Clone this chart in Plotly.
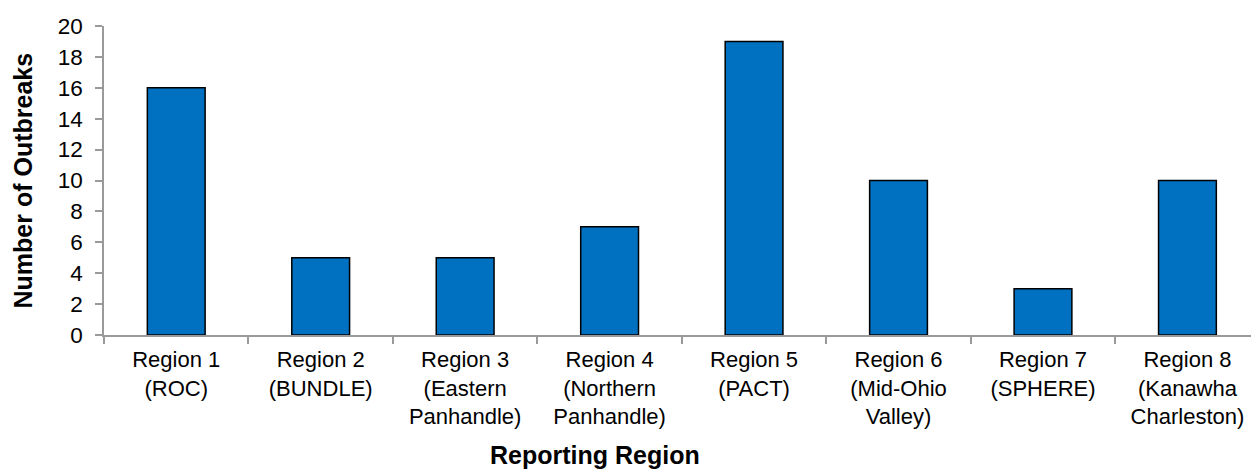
import plotly.graph_objects as go

regions = [
    "Region 1<br>(ROC)",
    "Region 2<br>(BUNDLE)",
    "Region 3<br>(Eastern<br>Panhandle)",
    "Region 4<br>(Northern<br>Panhandle)",
    "Region 5<br>(PACT)",
    "Region 6<br>(Mid-Ohio<br>Valley)",
    "Region 7<br>(SPHERE)",
    "Region 8<br>(Kanawha<br>Charleston)",
]
outbreaks = [16, 5, 5, 7, 19, 10, 3, 10]

fig = go.Figure(
    go.Bar(
        x=regions,
        y=outbreaks,
        width=0.4,
        marker=dict(color="#0070C0", line=dict(color="#000000", width=1.5)),
    )
)

font_family = "Liberation Sans, Arial, sans-serif"
axis_grey = "#9a9a9a"

fig.update_layout(
    width=1251,
    height=469,
    margin=dict(l=104, r=0, t=26, b=134),
    plot_bgcolor="white",
    paper_bgcolor="white",
    showlegend=False,
    font=dict(family=font_family, size=23, color="#000000"),
    xaxis=dict(
        type="category",
        range=[-0.5, 7.44],
        showline=True,
        linecolor=axis_grey,
        linewidth=1.5,
        ticks="outside",
        tickson="boundaries",
        ticklen=7,
        tickcolor=axis_grey,
        tickwidth=1.5,
        showgrid=False,
        tickfont=dict(size=22),
        ticklabelstandoff=4,
    ),
    yaxis=dict(
        range=[0, 20],
        dtick=2,
        showline=True,
        linecolor=axis_grey,
        linewidth=1.5,
        ticks="outside",
        ticklen=7,
        tickcolor=axis_grey,
        tickwidth=1.5,
        showgrid=False,
        zeroline=False,
        tickfont=dict(size=22.5),
        ticklabelstandoff=8,
    ),
    annotations=[
        dict(
            text="<b>Number of Outbreaks</b>",
            xref="paper", yref="paper",
            x=0, y=0.5,
            xshift=-82,
            textangle=-90,
            showarrow=False,
            xanchor="center", yanchor="middle",
            font=dict(size=25),
        ),
        dict(
            text="<b>Reporting Region</b>",
            xref="paper", yref="paper",
            x=0.428, y=0,
            yshift=-120,
            showarrow=False,
            xanchor="center", yanchor="middle",
            font=dict(size=25),
        ),
    ],
)

fig.write_html("out.html")
